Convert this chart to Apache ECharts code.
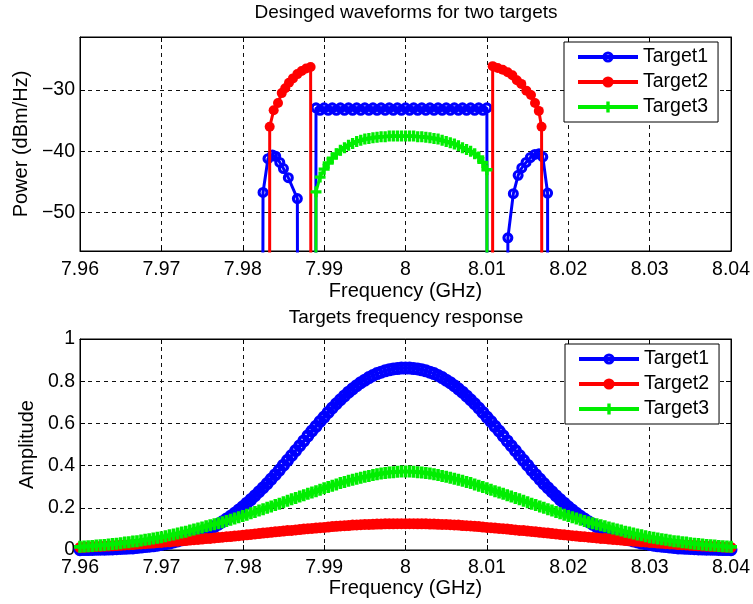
<!DOCTYPE html>
<html><head><meta charset="utf-8">
<script src="https://cdn.jsdelivr.net/npm/echarts@6/dist/echarts.min.js"></script>
<style>html,body{margin:0;padding:0;background:#fff}#c{width:753px;height:604px}</style>
</head><body><div id="c"></div>
<script>
const FONT = '"Liberation Sans", Arial, sans-serif';
const seriesNames = ['Target1', 'Target2', 'Target3'];
const seriesColors = ['#0000ff', '#ff0000', '#00ee00'];
const titleTop = 'Desinged waveforms for two targets';
const titleBottom = 'Targets frequency response';
const xName = 'Frequency (GHz)';
const yNameTop = 'Power (dBm/Hz)';
const yNameBottom = 'Amplitude';

// ---- top panel (power spectra); -120 marks samples far below the visible range
const t1TopFreq = [7.9824, 7.98249, 7.98310, 7.98365, 7.98405, 7.98455, 7.98500, 7.98560, 7.98671, 7.9868,
  7.98895,
  7.9890, 7.9895, 7.9900, 7.9905, 7.9910, 7.9915, 7.9920, 7.9925, 7.9930, 7.9935, 7.9940, 7.9945, 7.9950, 7.9955,
  7.9960, 7.9965, 7.9970, 7.9975, 7.9980, 7.9985, 7.9990, 7.9995, 8.0000, 8.0005, 8.0010, 8.0015, 8.0020, 8.0025,
  8.0030, 8.0035, 8.0040, 8.0045, 8.0050, 8.0055, 8.0060, 8.0065, 8.0070, 8.0075, 8.0080, 8.0085, 8.0090, 8.0095, 8.0100,
  8.01005, 8.0125,
  8.01258, 8.01325, 8.01384, 8.01429, 8.01481, 8.01534, 8.01589, 8.01640, 8.01687, 8.01746, 8.0175];
const t1TopPower = [-120, -46.7, -41.2, -40.6, -40.8, -41.8, -42.8, -44.3, -47.7, -120,
  -120,
  -32.9, -33.3, -32.9, -33.3, -32.9, -33.3, -32.9, -33.3, -32.9, -33.3, -32.9, -33.3, -32.9, -33.3,
  -32.9, -33.3, -32.9, -33.3, -32.9, -33.3, -32.9, -33.3, -32.9, -33.3, -32.9, -33.3, -32.9, -33.3,
  -32.9, -33.3, -32.9, -33.3, -32.9, -33.3, -32.9, -33.3, -32.9, -33.3, -32.9, -33.3, -32.9, -33.3, -32.9,
  -120, -120,
  -54.1, -46.9, -43.9, -42.7, -41.8, -41.0, -40.5, -40.4, -40.9, -46.8, -120];

const t2TopFreq = [7.9833, 7.98331, 7.98380, 7.98433, 7.98479, 7.98522, 7.98568, 7.98617, 7.98671, 7.98724, 7.98779, 7.98834, 7.9884,
  8.0107, 8.01071, 8.01133, 8.01194, 8.01255, 8.01313, 8.01368, 8.01423, 8.01485, 8.01542, 8.01591, 8.01638, 8.01672, 8.0168];
const t2TopPower = [-120, -36.0, -33.3, -32.1, -30.5, -29.7, -28.8, -28.1, -27.4, -26.9, -26.5, -26.25, -120,
  -120, -26.1, -26.4, -26.7, -27.1, -27.6, -28.4, -29.0, -30.1, -30.8, -32.1, -33.4, -36.0, -120];

const t3TopFreq = [7.98895,
  7.9890, 7.9895, 7.9900, 7.9905, 7.9910, 7.9915, 7.9920, 7.9925, 7.9930, 7.9935, 7.9940, 7.9945, 7.9950, 7.9955,
  7.9960, 7.9965, 7.9970, 7.9975, 7.9980, 7.9985, 7.9990, 7.9995, 8.0000, 8.0005, 8.0010, 8.0015, 8.0020, 8.0025,
  8.0030, 8.0035, 8.0040, 8.0045, 8.0050, 8.0055, 8.0060, 8.0065, 8.0070, 8.0075, 8.0080, 8.0085, 8.0090, 8.0095, 8.0100,
  8.01005];
const t3TopPower = [-120,
  -46.6, -44.2, -42.9, -41.9, -41.1, -40.4, -39.8, -39.4, -39.0, -38.7, -38.4, -38.2, -38.0, -37.9,
  -37.8, -37.7, -37.6, -37.6, -37.5, -37.5, -37.5, -37.5, -37.5, -37.5, -37.5, -37.6, -37.6, -37.7,
  -37.8, -37.9, -38.0, -38.2, -38.4, -38.6, -38.8, -39.1, -39.4, -39.7, -40.0, -40.4, -40.9, -41.8, -43.0,
  -120];

// ---- bottom panel (frequency response), sampled every 0.0005 GHz from 7.96 GHz
const bottomFreqStart = 7.96;
const bottomFreqStep = 0.0005;
const t1Amp = [
  0.0015,0.002,0.002,0.0025,0.003,0.0035,0.004,0.0045,0.005,0.006,
  0.007,0.008,0.009,0.010,0.012,0.014,0.016,0.018,0.020,0.023,
  0.026,0.030,0.033,0.038,0.043,0.048,0.054,0.060,0.067,0.074,
  0.083,0.091,0.101,0.111,0.122,0.134,0.147,0.160,0.174,0.189,
  0.205,0.222,0.239,0.257,0.276,0.295,0.315,0.336,0.357,0.379,
  0.402,0.425,0.448,0.471,0.494,0.517,0.541,0.564,0.586,0.609,
  0.630,0.652,0.673,0.693,0.712,0.730,0.748,0.764,0.779,0.793,
  0.805,0.817,0.827,0.836,0.843,0.849,0.854,0.858,0.860,0.862,
  0.862,
  0.862,0.860,0.858,0.854,0.849,0.843,0.836,0.827,0.817,0.805,
  0.793,0.779,0.764,0.748,0.730,0.712,0.693,0.673,0.652,0.630,
  0.609,0.586,0.564,0.541,0.517,0.494,0.471,0.448,0.425,0.402,
  0.379,0.357,0.336,0.315,0.295,0.276,0.257,0.239,0.222,0.205,
  0.189,0.174,0.160,0.147,0.134,0.122,0.111,0.101,0.091,0.083,
  0.074,0.067,0.060,0.054,0.048,0.043,0.038,0.033,0.030,0.026,
  0.023,0.020,0.018,0.016,0.014,0.012,0.010,0.009,0.008,0.007,
  0.006,0.005,0.0045,0.004,0.0035,0.003,0.0025,0.002,0.002,0.0015];
const t2Amp = [
  0.012,0.013,0.014,0.015,0.016,0.017,0.018,0.019,0.020,0.021,
  0.022,0.024,0.025,0.026,0.028,0.029,0.030,0.032,0.033,0.035,
  0.036,0.038,0.039,0.041,0.042,0.044,0.045,0.047,0.049,0.050,
  0.052,0.054,0.055,0.057,0.059,0.061,0.063,0.064,0.066,0.068,
  0.070,0.072,0.074,0.076,0.078,0.080,0.082,0.084,0.086,0.088,
  0.090,0.092,0.093,0.095,0.097,0.099,0.101,0.102,0.104,0.106,
  0.107,0.109,0.111,0.112,0.114,0.115,0.116,0.118,0.119,0.120,
  0.121,0.121,0.122,0.123,0.123,0.124,0.124,0.124,0.125,0.125,
  0.125,
  0.125,0.125,0.124,0.124,0.124,0.123,0.123,0.122,0.121,0.121,
  0.120,0.119,0.118,0.116,0.115,0.114,0.112,0.111,0.109,0.107,
  0.106,0.104,0.102,0.101,0.099,0.097,0.095,0.093,0.092,0.090,
  0.088,0.086,0.084,0.082,0.080,0.078,0.076,0.074,0.072,0.070,
  0.068,0.066,0.064,0.063,0.061,0.059,0.057,0.055,0.054,0.052,
  0.050,0.049,0.047,0.045,0.044,0.042,0.041,0.039,0.038,0.036,
  0.035,0.033,0.032,0.030,0.029,0.028,0.026,0.025,0.024,0.022,
  0.021,0.020,0.019,0.018,0.017,0.016,0.015,0.014,0.013,0.012];
const t3Amp = [
  0.015,0.016,0.018,0.019,0.021,0.022,0.024,0.026,0.028,0.030,
  0.032,0.035,0.037,0.040,0.042,0.045,0.048,0.051,0.055,0.058,
  0.061,0.065,0.070,0.074,0.078,0.083,0.087,0.092,0.097,0.102,
  0.107,0.112,0.117,0.122,0.127,0.132,0.138,0.143,0.149,0.155,
  0.161,0.167,0.174,0.180,0.187,0.193,0.200,0.206,0.213,0.219,
  0.226,0.233,0.240,0.246,0.253,0.260,0.266,0.273,0.279,0.286,
  0.293,0.299,0.305,0.311,0.317,0.322,0.328,0.333,0.338,0.343,
  0.347,0.351,0.355,0.359,0.362,0.365,0.367,0.369,0.371,0.372,
  0.372,
  0.372,0.371,0.369,0.367,0.365,0.362,0.359,0.355,0.351,0.347,
  0.343,0.338,0.333,0.328,0.322,0.317,0.311,0.305,0.299,0.293,
  0.286,0.279,0.273,0.266,0.260,0.253,0.246,0.240,0.233,0.226,
  0.219,0.213,0.206,0.200,0.193,0.187,0.180,0.174,0.167,0.161,
  0.155,0.149,0.143,0.138,0.132,0.127,0.122,0.117,0.112,0.107,
  0.102,0.097,0.092,0.087,0.083,0.078,0.074,0.070,0.065,0.061,
  0.058,0.055,0.051,0.048,0.045,0.042,0.040,0.037,0.035,0.032,
  0.030,0.028,0.026,0.024,0.022,0.021,0.019,0.018,0.016,0.015];

const xMin = 7.96, xMax = 8.04, xInterval = 0.01;
const yTopMin = -56.25, yTopMax = -21.35;
const yBotMin = 0, yBotMax = 1, yBotInterval = 0.2;

const zip = (a, b) => a.map((v, i) => [v, b[i]]);
const bottomFreq = t1Amp.map((_, i) => +(bottomFreqStart + i * bottomFreqStep).toFixed(4));

// hollow ring (MATLAB 'o'), filled dot, and plus marker
const RING = 'path://M0,5A5,5 0 1,1 10,5A5,5 0 1,1 0,5Z M2.8,5A2.2,2.2 0 1,0 7.2,5A2.2,2.2 0 1,0 2.8,5Z';
const PLUS = 'path://M3.5,0H6.5V3.5H10V6.5H6.5V10H3.5V6.5H0V3.5H3.5Z';
const symbols = [RING, 'circle', PLUS];

const fmtX = v => String(Math.round(v * 100) / 100);
const fmtYTop = v => Math.abs(v / 10 - Math.round(v / 10)) < 1e-6 ? String(Math.round(v)).replace('-', '\u2212') : '';
const fmtYBot = v => String(Math.round(v * 10) / 10);

const textBase = { color: '#000', fontFamily: FONT };
const splitStyle = { show: true, lineStyle: { color: '#111', type: [4, 4], width: 1 } };
const axisLineStyle = { show: true, onZero: false, lineStyle: { color: '#000', width: 1 } };
const tickStyle = { show: true, inside: true, length: 5, lineStyle: { color: '#000', width: 1 } };

const TICK_FS = 19.5, NAME_FS = 20, TITLE_FS = 19, LEGEND_FS = 19.5;

function mainX(gridIndex, nameGap, margin) {
  return {
    type: 'value', gridIndex, position: 'bottom', min: xMin, max: xMax, interval: xInterval,
    axisLine: axisLineStyle, axisTick: tickStyle, splitLine: splitStyle,
    axisLabel: Object.assign({ fontSize: TICK_FS, margin, formatter: fmtX, showMinLabel: true, showMaxLabel: true }, textBase),
    name: xName, nameLocation: 'middle', nameGap,
    nameTextStyle: Object.assign({ fontSize: NAME_FS }, textBase)
  };
}
function mirrorX(gridIndex) {
  return { type: 'value', gridIndex, position: 'top', min: xMin, max: xMax, interval: xInterval,
    axisLine: axisLineStyle, axisTick: tickStyle, splitLine: { show: false }, axisLabel: { show: false } };
}
function legendAt(left, top) {
  return { orient: 'vertical', left, top, itemWidth: 60, itemHeight: 14, itemGap: 5,
    padding: [5, 10, 5, 12], backgroundColor: '#fff', borderColor: '#000', borderWidth: 1, borderRadius: 0,
    lineStyle: { width: 4 },
    textStyle: Object.assign({ fontSize: LEGEND_FS, lineHeight: 20 }, textBase), data: seriesNames, selectedMode: false, z: 10 };
}

const option = {
  animation: false,
  backgroundColor: '#fff',
  title: [
    { text: titleTop, left: 406, top: 3, textAlign: 'center', padding: 0,
      textStyle: Object.assign({ fontSize: TITLE_FS, fontWeight: 'normal' }, textBase) },
    { text: titleBottom, left: 406, top: 308, textAlign: 'center', padding: 0,
      textStyle: Object.assign({ fontSize: TITLE_FS, fontWeight: 'normal' }, textBase) }
  ],
  grid: [
    { left: 80, top: 37, right: 21, bottom: 353, show: true, borderColor: '#000', borderWidth: 1, backgroundColor: '#fff' },
    { left: 80, top: 339, right: 22, bottom: 54, show: true, borderColor: '#000', borderWidth: 1, backgroundColor: '#fff' }
  ],
  xAxis: [ mainX(0, 30, 9), mainX(1, 27, 8), mirrorX(0), mirrorX(1) ],
  yAxis: [
    { type: 'value', gridIndex: 0, position: 'left', min: yTopMin, max: yTopMax, splitNumber: 3,
      axisLine: axisLineStyle, axisTick: tickStyle, splitLine: splitStyle,
      axisLabel: Object.assign({ fontSize: TICK_FS, margin: 5, formatter: fmtYTop, showMinLabel: false, showMaxLabel: false }, textBase),
      name: yNameTop, nameLocation: 'middle', nameGap: 48, nameTextStyle: Object.assign({ fontSize: NAME_FS }, textBase) },
    { type: 'value', gridIndex: 1, position: 'left', min: yBotMin, max: yBotMax, interval: yBotInterval,
      axisLine: axisLineStyle, axisTick: tickStyle, splitLine: splitStyle,
      axisLabel: Object.assign({ fontSize: TICK_FS, margin: 5, formatter: fmtYBot }, textBase),
      name: yNameBottom, nameLocation: 'middle', nameGap: 43, nameTextStyle: Object.assign({ fontSize: NAME_FS }, textBase) },
    { type: 'value', gridIndex: 0, position: 'right', min: yTopMin, max: yTopMax, splitNumber: 3,
      axisLine: axisLineStyle, axisTick: tickStyle, splitLine: { show: false }, axisLabel: { show: false } },
    { type: 'value', gridIndex: 1, position: 'right', min: yBotMin, max: yBotMax, interval: yBotInterval,
      axisLine: axisLineStyle, axisTick: tickStyle, splitLine: { show: false }, axisLabel: { show: false } }
  ],
  legend: [ legendAt(564, 42), legendAt(565, 344) ],
  series: []
};

const topData = [zip(t1TopFreq, t1TopPower), zip(t2TopFreq, t2TopPower), zip(t3TopFreq, t3TopPower)];
const botData = [zip(bottomFreq, t1Amp), zip(bottomFreq, t2Amp), zip(bottomFreq, t3Amp)];
const topSizes = [11, 10, 11];
const botSizes = [13, 11, 12];

seriesNames.forEach((name, i) => {
  const c = seriesColors[i];
  const itemStyle = { color: c, borderColor: c, borderWidth: 0 };
  option.series.push({
    name, type: 'line', xAxisIndex: 0, yAxisIndex: 0, data: topData[i], clip: true,
    symbol: symbols[i], symbolSize: topSizes[i], showSymbol: true, sampling: null,
    lineStyle: { color: c, width: 3 }, itemStyle, z: 2 + i
  });
  option.series.push({
    name, type: 'line', xAxisIndex: 1, yAxisIndex: 1, data: botData[i], clip: true,
    symbol: symbols[i], symbolSize: botSizes[i], showSymbol: true,
    lineStyle: { color: c, width: 3 }, itemStyle, z: 2 + i
  });
});

const chart = echarts.init(document.getElementById('c'), null, { renderer: 'canvas' });
chart.setOption(option);
</script>
</body></html>
